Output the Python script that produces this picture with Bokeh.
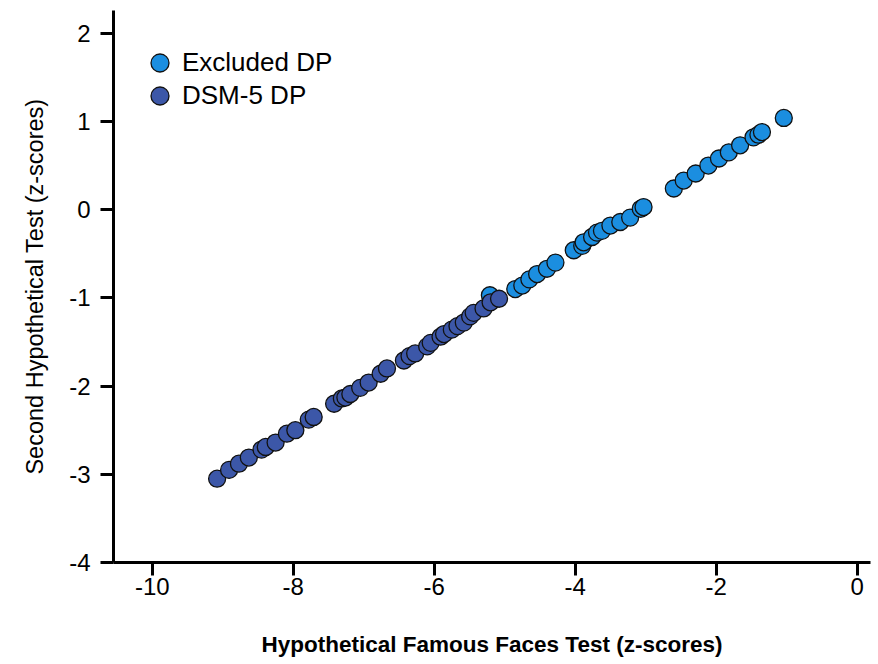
from bokeh.plotting import figure
from bokeh.models import Range1d, FixedTicker, Legend, LegendItem, CustomJSTickFormatter
from bokeh.embed import file_html
from bokeh.resources import INLINE

# Excluded DP (light blue)
excl_x = [-5.21, -4.85, -4.75, -4.65, -4.54, -4.40, -4.28, -4.02, -3.90, -3.88,
          -3.76, -3.69, -3.62, -3.50, -3.36, -3.22, -3.07, -3.03,
          -2.60, -2.46, -2.29, -2.11, -1.96, -1.82, -1.66, -1.47, -1.40, -1.35, -1.04]
excl_y = [-0.97, -0.90, -0.86, -0.79, -0.73, -0.67, -0.60, -0.46, -0.41, -0.37,
          -0.31, -0.26, -0.24, -0.18, -0.14, -0.09, 0.01, 0.03,
          0.24, 0.33, 0.41, 0.50, 0.58, 0.65, 0.73, 0.82, 0.85, 0.88, 1.04]

# DSM-5 DP (dark blue)
dsm_x = [-9.08, -8.91, -8.77, -8.63, -8.45, -8.39, -8.25, -8.09, -7.97, -7.78,
         -7.71, -7.42, -7.31, -7.26, -7.19, -7.05, -6.93, -6.76, -6.67, -6.43,
         -6.35, -6.27, -6.10, -6.05, -5.91, -5.86, -5.75, -5.67, -5.58, -5.49,
         -5.44, -5.30, -5.20, -5.08]
dsm_y = [-3.05, -2.95, -2.88, -2.81, -2.72, -2.69, -2.64, -2.54, -2.50, -2.38,
         -2.35, -2.20, -2.14, -2.13, -2.09, -2.02, -1.96, -1.86, -1.80, -1.71,
         -1.66, -1.63, -1.55, -1.51, -1.44, -1.41, -1.36, -1.32, -1.28, -1.21,
         -1.17, -1.12, -1.05, -1.01]

x_ticks = [-10, -8, -6, -4, -2, 0]
y_ticks = [-4, -3, -2, -1, 0, 1, 2]

FONT = "Liberation Sans"

p = figure(width=878, height=664, output_backend="svg", toolbar_location=None,
           x_range=Range1d(-10.55, 0.19), y_range=Range1d(-4, 2.258),
           min_border_left=113, min_border_right=8, min_border_top=10,
           min_border_bottom=102)

p.outline_line_color = None
p.xgrid.visible = False
p.ygrid.visible = False

r1 = p.scatter(excl_x, excl_y, size=17, fill_color="#1b8ee0",
               line_color="#111111", line_width=1.3)
r2 = p.scatter(dsm_x, dsm_y, size=17, fill_color="#3c57a8",
               line_color="#111111", line_width=1.3)

fmt = "return tick.toFixed(0);"
for ax in (p.xaxis[0], p.yaxis[0]):
    ax.axis_line_width = 3
    ax.axis_line_color = "black"
    ax.major_tick_line_width = 3
    ax.major_tick_line_color = "black"
    ax.major_tick_out = 13
    ax.major_tick_in = 0
    ax.minor_tick_line_color = None
    ax.major_label_text_font = FONT
    ax.major_label_text_font_size = "24px"
    ax.major_label_text_color = "black"
    ax.axis_label_text_font = FONT
    ax.axis_label_text_color = "black"
    ax.formatter = CustomJSTickFormatter(code=fmt)

p.xaxis.ticker = FixedTicker(ticks=x_ticks)
p.yaxis.ticker = FixedTicker(ticks=y_ticks)
p.xaxis.major_label_standoff = 2
p.yaxis.major_label_standoff = 10

p.xaxis.axis_label = "Hypothetical Famous Faces Test (z-scores)"
p.xaxis.axis_label_text_font_style = "bold"
p.xaxis.axis_label_text_font_size = "22.5px"
p.xaxis.axis_label_standoff = 34

p.yaxis.axis_label = "Second Hypothetical Test (z-scores)"
p.yaxis.axis_label_text_font_style = "normal"
p.yaxis.axis_label_text_font_size = "23.5px"
p.yaxis.axis_label_standoff = 18

common = dict(glyph_width=45, glyph_height=45, spacing=0, label_standoff=0,
              padding=0, margin=0, border_line_color=None,
              background_fill_alpha=0, label_text_font=FONT,
              label_text_font_size="26px", label_text_color="black")
leg1 = Legend(items=[LegendItem(label="Excluded DP", renderers=[r1])],
              location=(24, 477), **common)
leg2 = Legend(items=[LegendItem(label="DSM-5 DP", renderers=[r2])],
              location=(24, 444), **common)
p.add_layout(leg1)
p.add_layout(leg2)

open("out.html", "w").write(file_html(p, INLINE))
